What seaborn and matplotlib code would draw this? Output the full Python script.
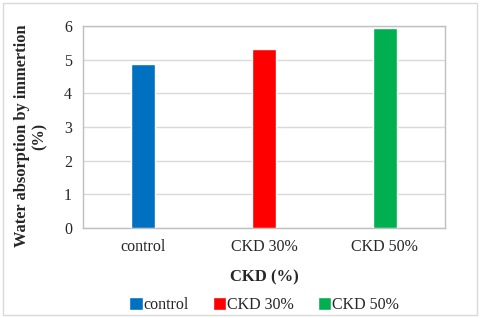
import pandas as pd
import matplotlib
matplotlib.use("Agg")
import matplotlib.pyplot as plt
import seaborn as sns
from matplotlib.patches import Rectangle

# Water absorption by immersion for each mix
categories = ['control', 'CKD 30%', 'CKD 50%']
absorption = [4.86, 5.33, 5.93]
colors = ['#0070C0', '#FF0000', '#00B050']

data = pd.DataFrame({'Mix': categories, 'Absorption': absorption})

sns.set_style('white')
plt.rcParams['font.family'] = ['Liberation Serif', 'DejaVu Serif']

fig, ax = plt.subplots(figsize=(4.8, 3.18), dpi=100)
fig.subplots_adjust(left=0.173, right=0.927, top=0.918, bottom=0.283)

sns.barplot(data=data, x='Mix', y='Absorption', hue='Mix', order=categories,
            hue_order=categories, palette=colors, dodge=False, width=0.2,
            saturation=1, legend=True, ax=ax, zorder=3)

ax.set_ylim(0, 6)
ax.set_yticks(range(0, 7))
ax.grid(axis='y', color='#d9d9d9', linewidth=1, zorder=0)
ax.set_axisbelow(True)
for s in ax.spines.values():
    s.set_color('#bfbfbf')
    s.set_linewidth(1)
ax.tick_params(axis='both', length=0, labelsize=11.5, colors='#262626', pad=8)

ax.set_xlabel('CKD (%)', fontsize=12, fontweight='bold', labelpad=10)
ax.set_ylabel('Water absorption by immertion\n(%)', fontsize=11.8,
              fontweight='bold')
ax.yaxis.set_label_coords(-0.097, 0.455)

handles, labels = ax.get_legend_handles_labels()
ax.legend(handles, labels, loc='upper center', bbox_to_anchor=(0.5, -0.27),
          ncol=3, frameon=False, fontsize=11.5, handlelength=0.85,
          handleheight=0.85, handletextpad=0.05, columnspacing=1.5)

fig.patches.append(Rectangle((0.006, 0.01), 0.988, 0.98, transform=fig.transFigure,
                             fill=False, edgecolor='#d9d9d9', linewidth=1))

plt.savefig('out.png', dpi=100)
